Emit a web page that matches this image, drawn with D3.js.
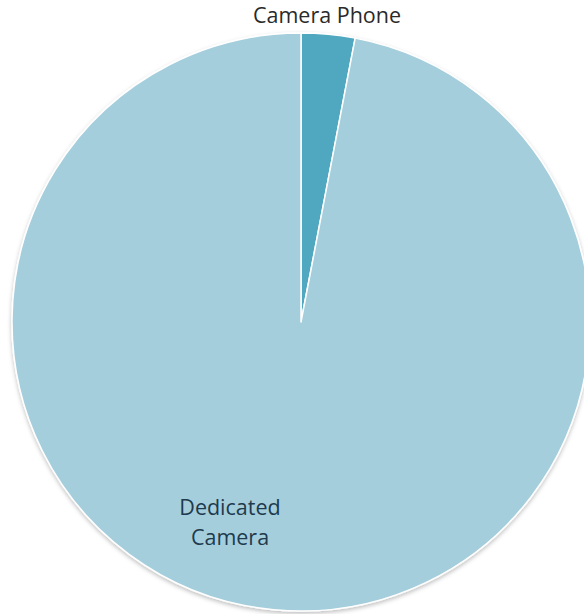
<!DOCTYPE html>
<html><head><meta charset="utf-8">
<script src="https://cdn.jsdelivr.net/npm/d3@7"></script>
<style>body{margin:0;background:#fff}svg{display:block}</style>
</head><body>
<script>
const categories = ["Camera Phone", "Dedicated Camera"];
const values = [3, 97];
const colors = ["#4fa8c0", "#a5cedd"];

const W = 584, H = 614, cx = 301, cy = 322, R = 289;
const svg = d3.select("body").append("svg").attr("width", W).attr("height", H);
const defs = svg.append("defs");
const f = defs.append("filter").attr("id","sh").attr("x","-10%").attr("y","-10%").attr("width","120%").attr("height","120%");
f.append("feDropShadow").attr("dx",0).attr("dy",2).attr("stdDeviation",2).attr("flood-color","#000").attr("flood-opacity",0.25);

const pie = d3.pie().sort(null).value(d => d)(values);
const arc = d3.arc().innerRadius(0).outerRadius(R);
const g = svg.append("g").attr("transform", `translate(${cx},${cy})`).attr("filter","url(#sh)");
g.selectAll("path").data(pie).join("path")
  .attr("d", arc).attr("fill", (d,i) => colors[i])
  .attr("stroke", "#fff").attr("stroke-width", 1.5).attr("stroke-linejoin","round");

svg.append("text").attr("x", 327).attr("y", 23).attr("text-anchor","middle")
  .attr("font-family","Open Sans, sans-serif").attr("font-size", 21.5).attr("font-weight", 500).attr("fill","#2a2a2a")
  .text(categories[0]);
const t = svg.append("text").attr("text-anchor","middle")
  .attr("font-family","Open Sans, sans-serif").attr("font-size", 21.5).attr("font-weight", 500).attr("fill","#1e3a4c");
const parts = categories[1].split(" ");
t.append("tspan").attr("x", 230).attr("y", 515).text(parts[0]);
t.append("tspan").attr("x", 230).attr("y", 545).text(parts[1]);
</script>
</body></html>
